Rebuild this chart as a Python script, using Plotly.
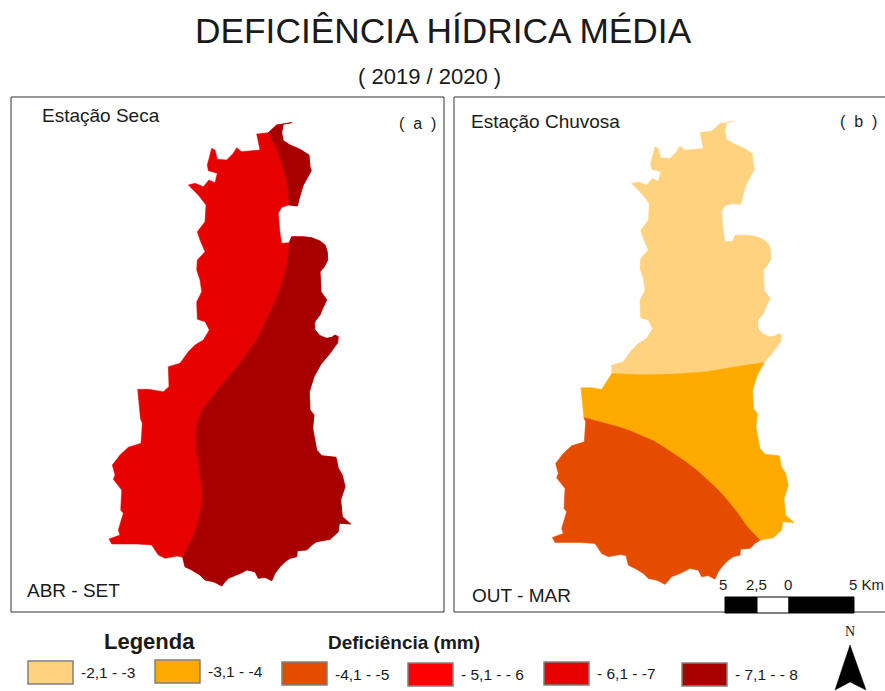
import plotly.graph_objects as go

W, H = 885, 691

# Basin outline, split where the class boundaries meet it
SEG_NORTH = [(268.3, 132.7), (276.7, 125), (291.7, 122.7), (283.3, 124), (281.7, 132.7), (283.3, 140.7), (290, 145), (300, 149.3),
             (309, 155), (310, 166.7), (311.3, 170.7), (303.3, 185), (300.7, 193.3), (297.3, 206), (289.3, 205)]
SEG_GAP = [(289.3, 205), (281.7, 207.3), (278.3, 213.3), (280, 233.3), (281.7, 243.3), (286.7, 242.7), (289.3, 242.7)]
SEG_EAST1 = [(289.3, 242.7), (291.7, 236.7), (303.3, 236.7), (311.7, 237.7), (320, 241), (325, 245), (327.3, 251.7), (327.7, 260),
             (324.3, 266.7), (320, 271.7), (320.7, 281.7), (321, 291.7), (323.3, 295), (326.7, 300), (322.7, 308.3), (320, 315),
             (316, 320), (314.3, 323.3), (315, 330), (320, 335.7), (326.7, 338.3), (331.7, 337.3), (335, 335), (338.3, 336.7),
             (337.5, 343), (330, 353.3), (321, 364)]
SEG_EAST2 = [(321, 364), (314, 376.7), (309.3, 391.7), (310, 410), (314, 415), (312.7, 428.3), (316.7, 450), (321.7, 455.7),
             (336, 457.3), (338.3, 468.3), (342.3, 475), (345, 486.7), (340.7, 500), (342.3, 516.7), (350.7, 524), (339.3, 523.3),
             (338.3, 531.7), (330, 539.3), (316.7, 541.7)]
SEG_SOUTH = [(316.7, 541.7), (311.7, 545), (306.7, 550), (297.3, 550.7), (296.7, 556.7), (290, 558.3), (285, 561.7), (280, 566.7),
             (275, 573.3), (271.7, 580.7), (265, 577.3), (258.3, 578.3), (255, 571.7), (246.7, 570), (241.7, 572.7), (236.7, 575),
             (228.3, 578.3), (225, 581.7), (221.7, 586), (216.7, 583.3), (213.3, 581.7), (205, 580), (200, 575), (191.7, 570),
             (185, 566.7), (182.7, 557.3)]
SEG_SW = [(182.7, 557.3), (177.3, 556), (165, 558.3), (158.3, 555), (151.7, 545), (136.7, 544), (111.7, 544), (109, 539), (120, 535),
          (118.3, 530), (123.3, 513.3), (120.7, 510), (121.7, 490), (113.3, 479.3), (115, 475), (112.3, 465), (120, 455), (128.3, 447.3),
          (141, 443.3), (142.3, 423.3), (140.5, 419)]
SEG_W = [(140.5, 419), (137.7, 389.3), (148.3, 389.3), (163.3, 391.7), (169, 386.7), (168.5, 375)]
SEG_NW = [(168.5, 375), (168.3, 366.7), (180, 363.3), (188.3, 351.7), (195, 345), (203.3, 340), (209.3, 330), (205, 321.7), (197.3, 319.3),
          (196.7, 301.7), (201.7, 291.7), (200, 280), (196.7, 270), (197.3, 260), (205, 251.7), (200, 240), (197.3, 231.7), (205, 221.7),
          (206, 205), (198.3, 195), (188.3, 185), (195, 183.3), (203.3, 186.7), (209, 180), (215, 182.7), (217.3, 173.3), (208.3, 170.7),
          (207.3, 165), (211.7, 148.3), (215, 150), (217.3, 159.3), (226.7, 160), (233.3, 153.3), (236.7, 147.7), (241.7, 151.7), (260, 150),
          (256.7, 134), (268.3, 132.7)]

# Class boundaries inside the basin
CURVE_NORTH = [(268.3, 132.7), (272.5, 140), (276.7, 148.3), (280, 157), (283.3, 166.7), (286, 177), (288.3, 188.3), (289.3, 205)]
CURVE_EAST = [(289.3, 242.7), (289, 253.3), (286.7, 266.7), (283.3, 278.3), (280, 290), (275, 301.7), (270, 313.3), (265, 323.3),
              (256.7, 340), (248.3, 351.7), (240, 363.3), (231.7, 373.3), (223.3, 383.3), (216, 392.7), (208.3, 401.7), (203.3, 408.3),
              (200, 415), (197.3, 423.3), (196, 431.7), (196, 440), (196.7, 450), (198.3, 461.7), (200, 473.3), (201.7, 485),
              (202.3, 496.7), (201.7, 506.7), (199.3, 516.7), (196.7, 526.7), (191.7, 540), (188.3, 546.7), (182.7, 557.3)]
CURVE_LIGHT = [(168.5, 375), (196.7, 376.2), (230, 375.5), (263.4, 373.2), (296.7, 367.5), (321, 364)]
CURVE_ORANGE = [(140.5, 419), (153.4, 422.5), (163.4, 424.8), (175, 428.2), (186.7, 432.2), (198.4, 437.2), (210, 442.2), (220, 448.2),
                (230, 454.8), (241.7, 462.8), (253.4, 471.5), (263.4, 480.5), (273.4, 489.8), (283.4, 500.8), (293.4, 513.2),
                (303.4, 527.5), (316.7, 541.7)]

LEGEND_LABELS = ["-2,1 - -3", "-3,1 - -4", "-4,1 - -5", "- 5,1 - - 6", "- 6,1 - -7", "- 7,1 - - 8"]
LEGEND_COLORS = ["#FFD27F", "#FFAA00", "#E64C00", "#FF0000", "#E60000", "#A80000"]
SWATCH_BOXES = [(28, 661), (155, 660), (282, 662), (408, 663), (544, 662), (682, 663)]
LABEL_SPOTS = [(79, 672), (206, 671), (333, 674), (459, 674), (595, 673), (733, 674)]

SCALE_LABELS = ["5", "2,5", "0", "5 Km"]
SCALE_SPOTS = [723, 756, 788, 866]

TEXT = "#1a1a1a"


def px(x):
    return x / W


def py(y):
    return 1 - y / H


def zone(fig, color, axis, *parts):
    pts = [p for part in parts for p in part]
    fig.add_trace(go.Scatter(
        x=[p[0] for p in pts], y=[p[1] for p in pts],
        mode="lines", fill="toself", fillcolor=color,
        line=dict(color=color, width=0.5),
        hoverinfo="skip", xaxis=axis[0], yaxis=axis[1]
    ))


def label(fig, text, x, y, size, anchor="left", bold=False, family="Liberation Sans"):
    fig.add_annotation(
        text=f"<b>{text}</b>" if bold else text,
        x=px(x), y=py(y), xref="paper", yref="paper",
        xanchor=anchor, yanchor="middle", showarrow=False,
        font=dict(family=family, size=size, color=TEXT)
    )


fig = go.Figure()

# Panel (a), dry season
A = ("x", "y")
zone(fig, "#E60000", A, SEG_NORTH, SEG_GAP, SEG_EAST1, SEG_EAST2, SEG_SOUTH, SEG_SW, SEG_W, SEG_NW)
zone(fig, "#A80000", A, SEG_NORTH, CURVE_NORTH[::-1])
zone(fig, "#A80000", A, SEG_EAST1, SEG_EAST2, SEG_SOUTH, CURVE_EAST[::-1])

# Panel (b), wet season: same outline, other classes
B = ("x2", "y2")
zone(fig, "#FFD27F", B, SEG_NW, SEG_NORTH, SEG_GAP, SEG_EAST1, CURVE_LIGHT[::-1])
zone(fig, "#FFAA00", B, CURVE_LIGHT, SEG_EAST2, CURVE_ORANGE[::-1], SEG_W[::-1])
zone(fig, "#E64C00", B, CURVE_ORANGE, SEG_SOUTH, SEG_SW)

hidden = dict(visible=False, showgrid=False, zeroline=False)
fig.update_layout(
    width=W, height=H, margin=dict(l=0, r=0, t=0, b=0),
    paper_bgcolor="white", plot_bgcolor="white", showlegend=False,
    xaxis=dict(domain=[px(11), px(444)], range=[11, 444], **hidden),
    yaxis=dict(domain=[py(612), py(97)], range=[612, 97], **hidden),
    xaxis2=dict(domain=[px(454), 1], range=[454 - 443.3, W - 443.3], **hidden),
    yaxis2=dict(domain=[py(612), py(97)], range=[613.5, 98.5], **hidden),
)

shapes = []
frame = dict(color="#333333", width=1)
shapes.append(dict(type="rect", xref="paper", yref="paper", x0=px(11), x1=px(444), y0=py(612), y1=py(97), line=frame))
shapes.append(dict(type="path", xref="paper", yref="paper", line=frame,
                   path=f"M {px(W)} {py(97)} L {px(454)} {py(97)} L {px(454)} {py(612)} L {px(W)} {py(612)}"))

# Scale bar
for x0, x1, color in [(725, 757, "black"), (757, 789, "white"), (789, 854, "black")]:
    shapes.append(dict(type="rect", xref="paper", yref="paper", x0=px(x0), x1=px(x1), y0=py(613), y1=py(597),
                       fillcolor=color, line=dict(color="black", width=1)))

# Legend swatches
for (x0, y0), color in zip(SWATCH_BOXES, LEGEND_COLORS):
    shapes.append(dict(type="rect", xref="paper", yref="paper", x0=px(x0), x1=px(x0 + 45), y0=py(y0 + 23), y1=py(y0),
                       fillcolor=color, line=dict(color="#808080", width=1.5)))

# North arrow
shapes.append(dict(type="path", xref="paper", yref="paper", fillcolor="black", line=dict(color="black", width=0.5),
                   path=f"M {px(850)} {py(645)} L {px(866)} {py(690)} L {px(850)} {py(682)} L {px(835)} {py(690)} Z"))
fig.update_layout(shapes=shapes)

label(fig, "DEFICIÊNCIA HÍDRICA MÉDIA", 443, 30, 35.3, anchor="center")
label(fig, "( 2019 / 2020 )", 429, 76, 22, anchor="center")
label(fig, "Estação Seca", 40, 115, 19)
label(fig, "(  a  )", 417, 124, 16, anchor="center")
label(fig, "Estação Chuvosa", 469, 121, 19)
label(fig, "(  b  )", 858, 121, 16, anchor="center")
label(fig, "ABR - SET", 25, 590, 19)
label(fig, "OUT - MAR", 470, 595, 19)
label(fig, "Legenda", 102, 641, 22, bold=True)
label(fig, "Deficiência (mm)", 326, 642, 19, bold=True)
label(fig, "N", 850, 631, 14, anchor="center", family="Liberation Serif")

for text, (x, y) in zip(LEGEND_LABELS, LABEL_SPOTS):
    label(fig, text, x, y, 15.5)
for text, x in zip(SCALE_LABELS, SCALE_SPOTS):
    label(fig, text, x, 584, 15, anchor="center")

fig.write_html("out.html", post_script="document.body.style.margin='0';", config=dict(displayModeBar=False))
